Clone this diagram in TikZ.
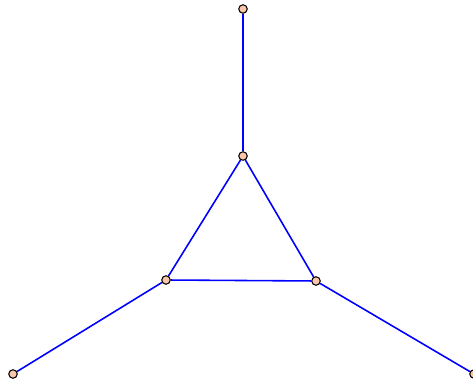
\documentclass[tikz,border=0pt]{standalone}
\definecolor{peach}{RGB}{250,198,170}
\begin{document}
\begin{tikzpicture}[x=0.02cm,y=-0.02cm,
  vtx/.style={circle,draw=black,fill=peach,inner sep=0pt,line width=0.6pt,minimum size=0.17cm},
  edge/.style={draw=blue,line width=0.9pt}]
\useasboundingbox (0,0) rectangle (473,381);
\node[vtx] (t) at (243,9) {};
\node[vtx] (c) at (243,156) {};
\node[vtx] (l) at (166,280) {};
\node[vtx] (r) at (316,281) {};
\node[vtx] (bl) at (13,374) {};
\node[vtx] (br) at (474,374) {};
\draw[edge] (t) -- (c);
\draw[edge] (c) -- (l);
\draw[edge] (c) -- (r);
\draw[edge] (l) -- (r);
\draw[edge] (l) -- (bl);
\draw[edge] (r) -- (br);
\end{tikzpicture}
\end{document}
